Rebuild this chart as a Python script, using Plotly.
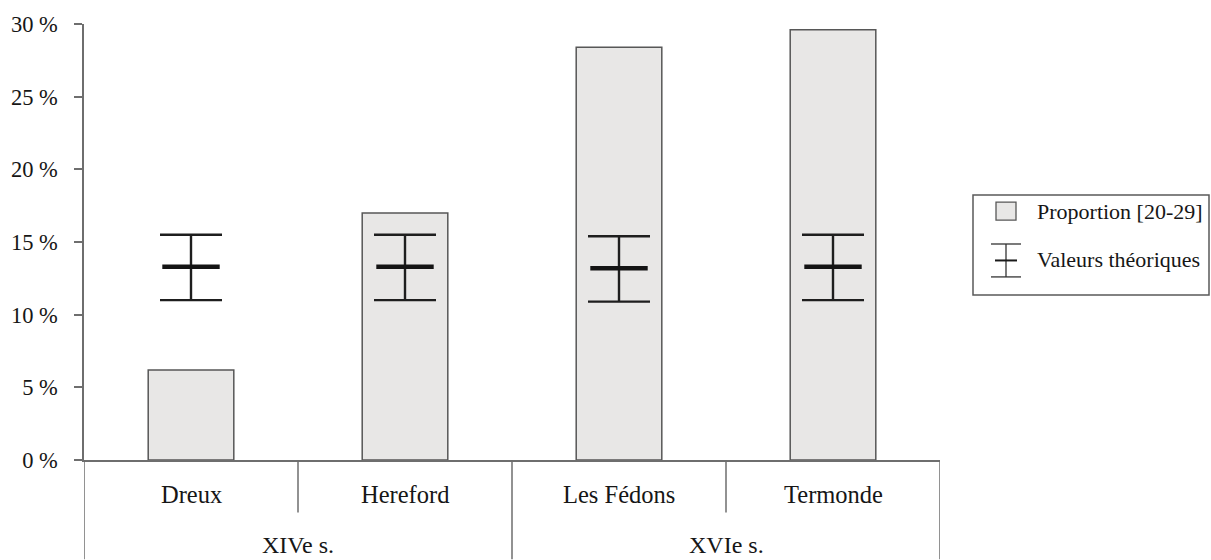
import plotly.graph_objects as go

# Sites and their period groups
sites = ["Dreux", "Hereford", "Les Fédons", "Termonde"]
periods = ["XIVe s.", "XVIe s."]
sites_per_period = 2

# Observed proportion of the [20-29] age class (%)
proportion = [6.2, 17.0, 28.4, 29.6]

# Theoretical values: central estimate with lower / upper bounds (%)
theo_center = [13.3, 13.3, 13.2, 13.3]
theo_low = [11.0, 11.0, 10.9, 11.0]
theo_high = [15.5, 15.5, 15.4, 15.5]

y_ticks = [0, 5, 10, 15, 20, 25, 30]
y_tick_labels = ["0 %", "5 %", "10 %", "15 %", "20 %", "25 %", "30 %"]

# ---- figure geometry (pixels) ----
W, H = 1211, 560
L, R, T, B = 84, 940, 23.5, 460.5
PW, PH = R - L, B - T

FONT = "Liberation Serif, Times New Roman, serif"
TXT = "#161616"
AX = "#6e6e6e"
BAR_FILL = "#e8e7e6"
BAR_LINE = "#575757"


def px_x(px):
    return (px - L) / PW


def px_y(py):
    return (B - py) / PH


x_idx = list(range(len(sites)))

fig = go.Figure()

fig.add_trace(go.Bar(
    x=x_idx, y=proportion, width=0.4,
    marker=dict(color=BAR_FILL, line=dict(color=BAR_LINE, width=1.5)),
    name="Proportion [20-29]", showlegend=False,
))

fig.add_trace(go.Scatter(
    x=x_idx, y=theo_center, mode="markers",
    marker=dict(symbol="line-ew", size=41, color="#141414",
                line=dict(width=4.5, color="#141414")),
    error_y=dict(type="data", symmetric=False,
                 array=[h - c for h, c in zip(theo_high, theo_center)],
                 arrayminus=[c - l for c, l in zip(theo_center, theo_low)],
                 width=31, thickness=2.4, color="#1e1e1e"),
    name="Valeurs théoriques", showlegend=False,
))

shapes = []
annotations = []

# category table under the axis
sub_div_bottom = px_y(513)
table_bottom = px_y(560)
for k in range(len(sites) - 1):
    xb = k + 0.5
    is_group_edge = (k + 1) % sites_per_period == 0
    shapes.append(dict(type="line", xref="x", yref="paper", x0=xb, x1=xb,
                       y0=0, y1=table_bottom if is_group_edge else sub_div_bottom,
                       line=dict(color=AX, width=1.5)))
for xb in (-0.5, len(sites) - 0.5):
    shapes.append(dict(type="line", xref="x", yref="paper", x0=xb, x1=xb,
                       y0=0, y1=table_bottom, line=dict(color=AX, width=1.5)))

for i, s in enumerate(sites):
    annotations.append(dict(x=i, y=px_y(495), xref="x", yref="paper",
                            text=s, showarrow=False, yanchor="middle",
                            font=dict(family=FONT, size=24.5, color=TXT)))
for g, p in enumerate(periods):
    xc = g * sites_per_period + (sites_per_period - 1) / 2
    annotations.append(dict(x=xc, y=px_y(546), xref="x", yref="paper",
                            text=p, showarrow=False, yanchor="middle",
                            font=dict(family=FONT, size=24, color=TXT)))

# legend box
shapes.append(dict(type="rect", xref="paper", yref="paper",
                   x0=px_x(973), x1=px_x(1209), y0=px_y(295), y1=px_y(195),
                   line=dict(color="#5a5a5a", width=1.5), fillcolor="white"))
shapes.append(dict(type="rect", xref="paper", yref="paper",
                   x0=px_x(996), x1=px_x(1016), y0=px_y(220), y1=px_y(202),
                   line=dict(color=BAR_LINE, width=1.3), fillcolor=BAR_FILL))
for y_cap in (244, 277):
    shapes.append(dict(type="line", xref="paper", yref="paper",
                       x0=px_x(991), x1=px_x(1021), y0=px_y(y_cap), y1=px_y(y_cap),
                       line=dict(color="#333333", width=1.3)))
shapes.append(dict(type="line", xref="paper", yref="paper",
                   x0=px_x(1006), x1=px_x(1006), y0=px_y(244), y1=px_y(277),
                   line=dict(color="#333333", width=1.3)))
shapes.append(dict(type="line", xref="paper", yref="paper",
                   x0=px_x(995), x1=px_x(1017), y0=px_y(260.5), y1=px_y(260.5),
                   line=dict(color="#1a1a1a", width=2)))
annotations.append(dict(x=px_x(1035), y=px_y(211), xref="paper", yref="paper",
                        text="Proportion [20-29]", showarrow=False,
                        xanchor="left", yanchor="middle",
                        font=dict(family=FONT, size=22, color=TXT)))
annotations.append(dict(x=px_x(1035), y=px_y(260), xref="paper", yref="paper",
                        text="Valeurs théoriques", showarrow=False,
                        xanchor="left", yanchor="middle",
                        font=dict(family=FONT, size=22, color=TXT)))

fig.update_layout(
    width=W, height=H,
    margin=dict(l=L, r=W - R, t=T, b=H - B, pad=0, autoexpand=False),
    paper_bgcolor="white", plot_bgcolor="white",
    showlegend=False,
    shapes=shapes, annotations=annotations,
    xaxis=dict(range=[-0.5, len(sites) - 0.5], showgrid=False, zeroline=False,
               showline=True, linecolor=AX, linewidth=1.5, automargin=False,
               showticklabels=False, ticks="", fixedrange=True),
    yaxis=dict(range=[0, 30], tickmode="array", tickvals=y_ticks,
               ticktext=y_tick_labels, automargin=False,
               showgrid=False, zeroline=False, showline=True,
               linecolor=AX, linewidth=1.5, ticks="outside", ticklen=8,
               tickcolor=AX, tickwidth=1.5, ticklabelstandoff=12,
               tickfont=dict(family=FONT, size=22.5, color=TXT), fixedrange=True),
)

fig.write_html("out.html")
